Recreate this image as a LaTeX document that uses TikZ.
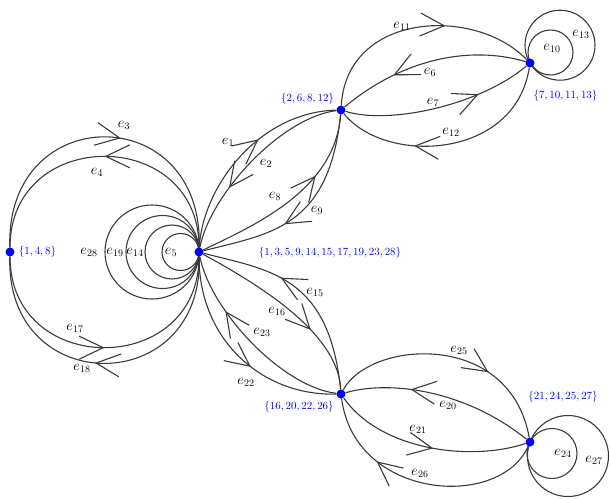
\documentclass[tikz,border=0pt]{standalone}
\usetikzlibrary{arrows.meta,decorations.markings}
\definecolor{edgecol}{HTML}{3A3A3A}
\pgfdeclarelayer{bg}
\pgfsetlayers{bg,main}
\tikzset{
  edge/.style={draw=edgecol,line width=1.1pt},
  barb/.tip={Straight Barb[length=24pt,width=23pt]},
  fwd/.style={postaction={decorate,decoration={markings,mark=at position #1 with {\arrow{barb}}}}},
  bwd/.style={postaction={decorate,decoration={markings,mark=at position #1 with {\arrowreversed{barb}}}}},
  vert/.style={circle,fill=blue,inner sep=0pt,minimum size=9pt},
  lab/.style={font=\fontsize{14.4}{16}\selectfont,inner sep=0pt},
  vlab/.style={text=blue,font=\fontsize{10.95}{12}\selectfont,inner sep=0pt},
}
\begin{document}
\begin{tikzpicture}[x=1pt,y=-1pt]
\useasboundingbox (0,0) rectangle (610,499);
% vertices
\node[vert] (A) at (10,252) {};
\node[vert] (B) at (199,252) {};
\node[vert] (C) at (341,110) {};
\node[vert] (D) at (530,63) {};
\node[vert] (E) at (341,394) {};
\node[vert] (F) at (530,442) {};
% vertex labels
\node[vlab] (lA) at (37.5,252) {$\{1,4,8\}$};
\node[vlab] (lB) at (330,253) {$\{1,3,5,9,14,15,17,19,23,28\}$};
\node[vlab] (lC) at (307.5,99) {$\{2,6,8,12\}$};
\node[vlab] (lD) at (565.5,96) {$\{7,10,11,13\}$};
\node[vlab] (lE) at (299,407) {$\{16,20,22,26\}$};
\node[vlab] (lF) at (563,397) {$\{21,24,25,27\}$};
\begin{pgfonlayer}{bg}
% A--B
\draw[edge,fwd=0.55] (A) .. controls (5,100) and (204,100) .. (B);
\draw[edge,bwd=0.5] (A) .. controls (10,126) and (199,126) .. (B);
\draw[edge,fwd=0.5] (A) .. controls (10,378) and (199,378) .. (B);
\draw[edge,bwd=0.47] (A) .. controls (5,399) and (204,399) .. (B);
% loops at B
\draw[edge] (B.center) ++(-18.5,0) circle[radius=18.5];
\draw[edge] (B.center) ++(-27,0) circle[radius=27];
\draw[edge] (B.center) ++(-36.5,0) circle[radius=36.5];
\draw[edge] (B.center) ++(-47,0) circle[radius=47];
% B--C
\draw[edge,fwd=0.6] (B) .. controls (203,185) and (260,112) .. (C);
\draw[edge,bwd=0.33] (B) .. controls (210,195) and (280,118) .. (C);
\draw[edge,fwd=0.67] (B) .. controls (255,225) and (335,190) .. (C);
\draw[edge,bwd=0.4] (B) .. controls (267,234) and (329,230) .. (C);
% C--D
\draw[edge,fwd=0.62] (C) .. controls (347,12) and (475,6) .. (D);
\draw[edge,bwd=0.3] (C) .. controls (402,59) and (470,45) .. (D);
\draw[edge,fwd=0.71] (C) .. controls (390,125) and (480,105) .. (D);
\draw[edge,bwd=0.34] (C) .. controls (385,165) and (515,160) .. (D);
% loops at D
\draw[edge] (D.center) ++(20.5,-10.5) circle[radius=22.5];
\draw[edge] (D.center) ++(30,-17.8) circle[radius=35];
% B--E
\draw[edge,bwd=0.38] (B) .. controls (267,270) and (329,274) .. (E);
\draw[edge,fwd=0.66] (B) .. controls (250,280) and (338,330) .. (E);
\draw[edge,bwd=0.3] (B) .. controls (210,309) and (280,386) .. (E);
\draw[edge,fwd=0.58] (B) .. controls (199,340) and (262,396) .. (E);
% E--F
\draw[edge,fwd=0.67] (E) .. controls (370,340) and (510,330) .. (F);
\draw[edge,bwd=0.34] (E) .. controls (390,380) and (465,390) .. (F);
\draw[edge,fwd=0.53] (E) .. controls (380,450) and (470,462) .. (F);
\draw[edge,bwd=0.3] (E) .. controls (355,500) and (500,510) .. (F);
% loops at F
\draw[edge] (F.center) ++(22,11.5) circle[radius=25];
\draw[edge] (F.center) ++(38,14) circle[radius=40.5];
\end{pgfonlayer}
% edge labels
\node[lab] (l3) at (124,125) {$e_{3}$};
\node[lab] (l4) at (97,172) {$e_{4}$};
\node[lab] (l17) at (75,328) {$e_{17}$};
\node[lab] (l18) at (82,368) {$e_{18}$};
\node[lab] (l28) at (89,252) {$e_{28}$};
\node[lab] (l19) at (115,252) {$e_{19}$};
\node[lab] (l14) at (135,252) {$e_{14}$};
\node[lab] (l5) at (171,252) {$e_{5}$};
\node[lab] (l1) at (228,142) {$e_{1}$};
\node[lab] (l2) at (266,163) {$e_{2}$};
\node[lab] (l8) at (275,196) {$e_{8}$};
\node[lab] (l9) at (317,210) {$e_{9}$};
\node[lab] (l11) at (402,26) {$e_{11}$};
\node[lab] (l6) at (430,72) {$e_{6}$};
\node[lab] (l7) at (433,102) {$e_{7}$};
\node[lab] (l12) at (451,132) {$e_{12}$};
\node[lab] (l10) at (552,48) {$e_{10}$};
\node[lab] (l13) at (581,34) {$e_{13}$};
\node[lab] (l15) at (315,292) {$e_{15}$};
\node[lab] (l16) at (277,311) {$e_{16}$};
\node[lab] (l23) at (262,332) {$e_{23}$};
\node[lab] (l22) at (246,382) {$e_{22}$};
\node[lab] (l25) at (459,350) {$e_{25}$};
\node[lab] (l20) at (448,405) {$e_{20}$};
\node[lab] (l21) at (418,429) {$e_{21}$};
\node[lab] (l26) at (420,473) {$e_{26}$};
\node[lab] (l24) at (563,453) {$e_{24}$};
\node[lab] (l27) at (594,460) {$e_{27}$};
\end{tikzpicture}
\end{document}
